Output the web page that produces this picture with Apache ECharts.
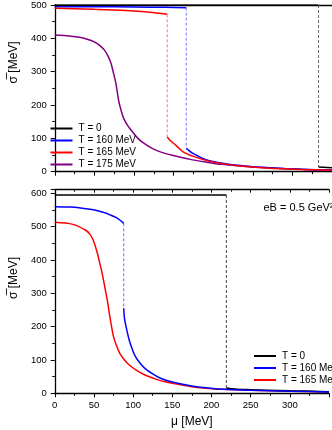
<!DOCTYPE html>
<html><head><meta charset="utf-8">
<script src="https://cdn.jsdelivr.net/npm/echarts@6/dist/echarts.min.js"></script>
<style>html,body{margin:0;padding:0;background:#fff}#c{width:332px;height:430px}</style>
</head><body><div id="c"></div>
<script>
// ---------- Data ----------
const legendTop = ['T = 0', 'T = 160 MeV', 'T = 165 MeV', 'T = 175 MeV'];
const legendBottom = ['T = 0', 'T = 160 MeV', 'T = 165 MeV'];
const annotation = 'eB = 0.5 GeV\u00B2';

// Top panel
const muTopT0Hi = [0, 333];
const sgTopT0Hi = [500, 500];
const muTopT0Lo = [333, 350];
const sgTopT0Lo = [14, 12];

const muTop160Hi = [0, 50, 100, 140, 166];
const sgTop160Hi = [495, 495, 494, 493, 492];
const muTop160Lo = [166, 175, 191, 210, 231, 250, 271, 290, 311, 330, 350];
const sgTop160Lo = [70, 54, 36, 26, 19, 15, 12, 9.5, 7.5, 6, 5];

const muTop165Hi = [0, 25, 50, 75, 100, 120, 142];
const sgTop165Hi = [490, 489, 487, 485, 482, 478, 472];
const muTop165Lo = [142, 146, 151, 157, 163, 175, 191, 210, 231, 250, 271, 290, 311, 330, 350];
const sgTop165Lo = [104, 93, 83, 70, 58, 46, 34, 25, 18, 14, 10.5, 8.5, 6.5, 5.5, 4.5];

const muTop175 = [0, 15, 31, 41, 51, 57, 63, 67, 71, 74, 77, 79, 81, 84, 87, 93, 99, 105, 111, 123, 135, 151, 171, 191, 211, 231, 251, 271, 291, 311, 331, 350];
const sgTop175 = [410, 408, 403, 397, 388, 378, 364, 348, 325, 297, 267, 238, 209, 182, 160, 135, 117, 100, 88, 70, 58, 48, 37, 29, 22, 17.5, 14, 11.5, 9, 7, 5.5, 4.5];

// Bottom panel (eB = 0.5 GeV^2)
const muBotT0Hi = [0, 219];
const sgBotT0Hi = [595, 595];
const muBotT0Lo = [219, 230, 250, 270, 300, 330, 350];
const sgBotT0Lo = [16, 13, 11, 9.5, 7.5, 6, 5];

const muBot160Hi = [0, 20, 31, 51, 65, 71, 78, 83, 88];
const sgBot160Hi = [560, 559, 557, 550, 541, 535, 528, 520, 510];
const muBot160Lo = [88, 89, 91, 95, 99, 103, 109, 115, 125, 135, 150, 175, 200, 215, 250, 300, 350];
const sgBot160Lo = [255, 225, 200, 160, 132, 110, 90, 75, 58, 45, 34, 22, 15, 12, 9, 6, 4];

const muBot165 = [0, 23, 39, 45, 49, 52, 55, 58, 60, 63, 65, 67, 71, 75, 79, 83, 89, 95, 105, 115, 125, 135, 150, 175, 200, 215, 250, 300, 350];
const sgBot165 = [513, 507, 490, 477, 460, 440, 415, 385, 365, 330, 305, 280, 220, 170, 142, 120, 100, 85, 68, 55, 46, 38, 30, 20, 14, 12, 9, 6, 4];

// ---------- Build ----------
const FONT = '"Liberation Sans", Arial, sans-serif';
const C = { t0: '#000000', t160: '#0000ff', t165: '#ff0000', t175: '#800080' };
const zip = (a, b) => a.map((v, i) => [v, b[i]]);
const jump = (muHi, sgHi, muLo, sgLo) => [[muHi[muHi.length - 1], sgHi[sgHi.length - 1]], [muLo[0], sgLo[0]]];

function curve(name, gi, mu, sg, color, smooth) {
  return { name, type: 'line', xAxisIndex: gi * 2, yAxisIndex: gi, data: zip(mu, sg),
    symbol: 'none', smooth: smooth ? 0.3 : false,
    lineStyle: { color, width: 1.5 }, itemStyle: { color }, z: 3, animation: false };
}
function dashed(gi, data, color) {
  return { name: '_jump', type: 'line', xAxisIndex: gi * 2, yAxisIndex: gi, data,
    symbol: 'none', lineStyle: { color, width: 1, type: [3, 2] }, z: 2, animation: false, silent: true };
}

const tick = { show: true, length: 4, lineStyle: { color: '#000', width: 1 } };
const minor = { show: true, splitNumber: 2, length: 2.5, lineStyle: { color: '#000', width: 1 } };
const line = { show: true, onZero: false, lineStyle: { color: '#000', width: 1.3 } };
const lab = { fontSize: 9.5, color: '#000', fontFamily: FONT };

const xBase = { type: 'value', min: 0, max: 350, interval: 50, splitLine: { show: false } };

const legendCommon = { orient: 'vertical', padding: 0, itemGap: 2, icon: 'rect',
  itemWidth: 22, itemHeight: 2,
  textStyle: { fontSize: 10, lineHeight: 10, color: '#000', fontFamily: FONT, padding: [0, 0, 0, 1] } };

const option = {
  animation: false,
  textStyle: { fontFamily: FONT },
  grid: [
    { left: 47.5, top: 0.5, width: 292.5, height: 171.2 },
    { left: 47.5, top: 189.7, width: 292.5, height: 203.6 }
  ],
  xAxis: [
    Object.assign({}, xBase, { gridIndex: 0, position: 'bottom', axisLine: line, axisTick: tick, minorTick: minor, axisLabel: { show: false } }),
    Object.assign({}, xBase, { gridIndex: 0, position: 'top', axisLine: line, axisTick: { show: false }, axisLabel: { show: false } }),
    Object.assign({}, xBase, { gridIndex: 1, position: 'bottom', axisLine: line, axisTick: tick, minorTick: minor,
      axisLabel: Object.assign({ margin: 7, formatter: v => (v <= 300 ? String(v) : '') }, lab),
      name: '\u03BC [MeV]', nameLocation: 'middle', nameGap: 22,
      nameTextStyle: { fontSize: 12, color: '#000', fontFamily: FONT } }),
    Object.assign({}, xBase, { gridIndex: 1, position: 'top', axisLine: line,
      axisTick: { show: true, inside: true, length: 3, lineStyle: { color: '#000' } },
      minorTick: { show: true, splitNumber: 2, length: 2, lineStyle: { color: '#000' } },
      axisLabel: { show: false } })
  ],
  yAxis: [
    { type: 'value', gridIndex: 0, min: 0, max: 500, interval: 100, splitLine: { show: false },
      axisLine: line, axisTick: tick, minorTick: minor,
      axisLabel: Object.assign({ margin: 8 }, lab),
      name: '\u03C3\u0305 [MeV]', nameLocation: 'middle', nameGap: 31, nameRotate: 90,
      nameTextStyle: { fontSize: 12, color: '#000', fontFamily: FONT, padding: [0, 0, 0, 52] } },
    { type: 'value', gridIndex: 1, min: 0, max: 611, interval: 100, splitLine: { show: false },
      axisLine: line, axisTick: tick, minorTick: minor,
      axisLabel: Object.assign({ margin: 8, formatter: v => (v % 100 === 0 ? String(v) : '') }, lab),
      name: '\u03C3\u0305 [MeV]', nameLocation: 'middle', nameGap: 31, nameRotate: 90,
      nameTextStyle: { fontSize: 12, color: '#000', fontFamily: FONT, padding: [0, 0, 0, 27] } }
  ],
  legend: [
    Object.assign({ data: legendTop, left: 50.5, top: 123.5 }, legendCommon),
    Object.assign({ data: legendBottom, left: 254, top: 351 }, legendCommon)
  ],
  graphic: [
    { type: 'text', left: 263.5, top: 202, style: { text: annotation, font: '11px ' + FONT, fill: '#000' } }
  ],
  series: [
    curve('T = 0', 0, muTopT0Hi, sgTopT0Hi, C.t0, false),
    curve('T = 160 MeV', 0, muTop160Hi, sgTop160Hi, C.t160, true),
    curve('T = 165 MeV', 0, muTop165Hi, sgTop165Hi, C.t165, true),
    curve('T = 175 MeV', 0, muTop175, sgTop175, C.t175, true),
    curve('T = 0', 0, muTopT0Lo, sgTopT0Lo, C.t0, false),
    curve('T = 160 MeV', 0, muTop160Lo, sgTop160Lo, C.t160, true),
    curve('T = 165 MeV', 0, muTop165Lo, sgTop165Lo, C.t165, true),
    dashed(0, jump(muTopT0Hi, sgTopT0Hi, muTopT0Lo, sgTopT0Lo), '#666666'),
    dashed(0, jump(muTop160Hi, sgTop160Hi, muTop160Lo, sgTop160Lo), '#7777ff'),
    dashed(0, jump(muTop165Hi, sgTop165Hi, muTop165Lo, sgTop165Lo), '#ff7777'),

    curve('T = 0', 1, muBotT0Hi, sgBotT0Hi, C.t0, false),
    curve('T = 160 MeV', 1, muBot160Hi, sgBot160Hi, C.t160, true),
    curve('T = 165 MeV', 1, muBot165, sgBot165, C.t165, true),
    curve('T = 0', 1, muBotT0Lo, sgBotT0Lo, C.t0, true),
    curve('T = 160 MeV', 1, muBot160Lo, sgBot160Lo, C.t160, true),
    dashed(1, jump(muBotT0Hi, sgBotT0Hi, muBotT0Lo, sgBotT0Lo), '#444444'),
    dashed(1, jump(muBot160Hi, sgBot160Hi, muBot160Lo, sgBot160Lo), '#6666ff')
  ]
};
const chart = echarts.init(document.getElementById('c'), null, { renderer: 'canvas' });
chart.setOption(option);
</script></body></html>
